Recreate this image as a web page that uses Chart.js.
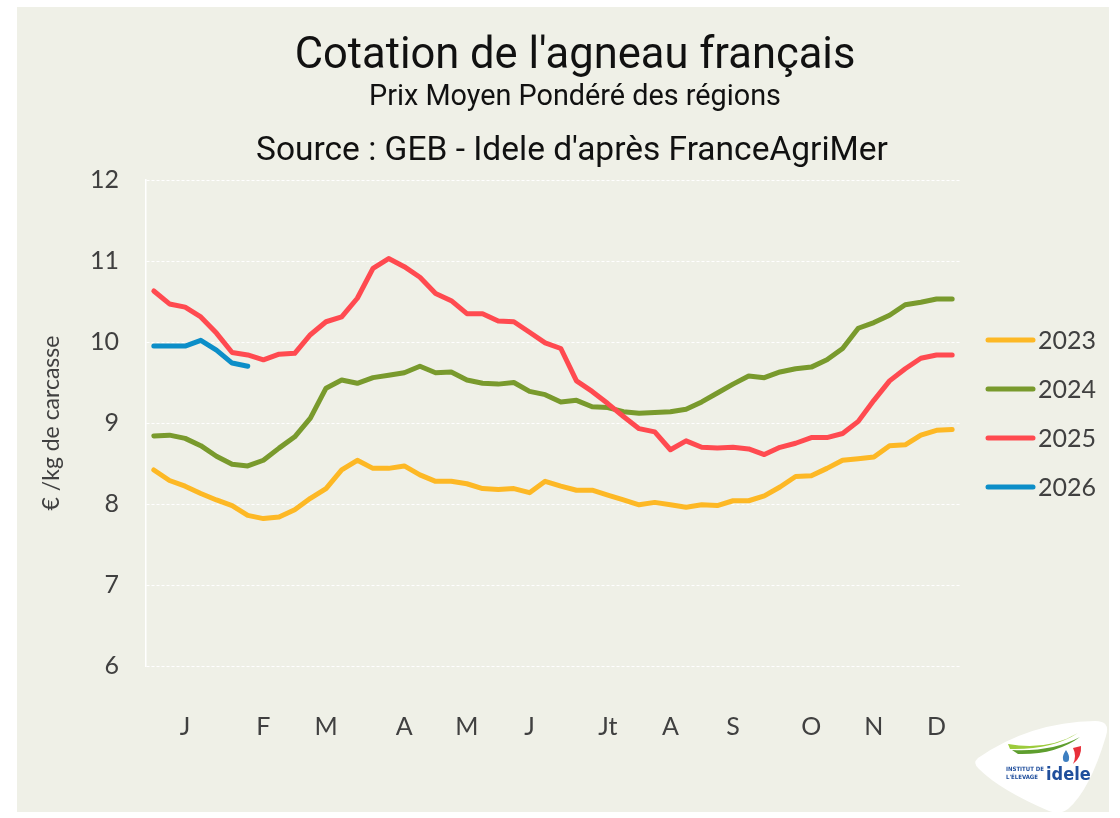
<!DOCTYPE html>
<html>
<head>
<meta charset="utf-8">
<script src="https://cdn.jsdelivr.net/npm/chart.js@4.4.1/dist/chart.umd.min.js"></script>
<style>
  html, body { margin: 0; padding: 0; background: #ffffff; }
  #wrap { width: 1120px; height: 818px; position: relative; }
</style>
</head>
<body>
<div id="wrap"><canvas id="c" width="1120" height="818"></canvas></div>
<script>
// ---- Data ----
const weeks = Array.from({ length: 52 }, (_, i) => i + 1);
const monthLabels = ['J', 'F', 'M', 'A', 'M', 'J', 'Jt', 'A', 'S', 'O', 'N', 'D'];
const monthWeekIndex = [2, 7, 11, 16, 20, 24, 29, 33, 37, 42, 46, 50];
const yTicks = [6, 7, 8, 9, 10, 11, 12];
const seriesNames = ['2023', '2024', '2025', '2026'];

const y2023 = [8.42, 8.29, 8.22, 8.13, 8.05, 7.98, 7.86, 7.82, 7.84, 7.93,
  8.07, 8.19, 8.42, 8.54, 8.44, 8.44, 8.47, 8.36, 8.28, 8.28,
  8.25, 8.19, 8.18, 8.19, 8.14, 8.28, 8.22, 8.17, 8.17, 8.11,
  8.05, 7.99, 8.02, 7.99, 7.96, 7.99, 7.98, 8.04, 8.04, 8.10,
  8.21, 8.34, 8.35, 8.44, 8.54, 8.56, 8.58, 8.72, 8.73, 8.85,
  8.91, 8.92];
const y2024 = [8.84, 8.85, 8.81, 8.72, 8.59, 8.49, 8.47, 8.54, 8.69, 8.83,
  9.06, 9.43, 9.53, 9.49, 9.56, 9.59, 9.62, 9.70, 9.62, 9.63,
  9.53, 9.49, 9.48, 9.50, 9.39, 9.35, 9.26, 9.28, 9.20, 9.19,
  9.14, 9.12, 9.13, 9.14, 9.17, 9.26, 9.37, 9.48, 9.58, 9.56,
  9.63, 9.67, 9.69, 9.78, 9.92, 10.17, 10.24, 10.33, 10.46, 10.49,
  10.53, 10.53];
const y2025 = [10.63, 10.47, 10.43, 10.31, 10.11, 9.87, 9.84, 9.78, 9.85, 9.86,
  10.09, 10.25, 10.31, 10.54, 10.91, 11.03, 10.93, 10.80, 10.60, 10.51,
  10.35, 10.35, 10.26, 10.25, 10.12, 9.99, 9.92, 9.52, 9.39, 9.24,
  9.08, 8.93, 8.89, 8.67, 8.78, 8.70, 8.69, 8.70, 8.68, 8.61,
  8.70, 8.75, 8.82, 8.82, 8.87, 9.02, 9.28, 9.52, 9.67, 9.80,
  9.84, 9.84];
const y2026 = [9.95, 9.95, 9.95, 10.02, 9.90, 9.74, 9.70];

const colors = ['#FDB825', '#799A2D', '#FF4A50', '#0C8EC8'];

// ---- Styling ----
const PANEL = '#EFF0E7';
const TEXT = '#404040';
const TICK_FONT = { family: 'Lato', size: 25 };

const decor = {
  id: 'decor',
  beforeDraw(chart) {
    const ctx = chart.ctx;
    ctx.save();
    ctx.fillStyle = '#ffffff';
    ctx.fillRect(0, 0, chart.width, chart.height);
    ctx.fillStyle = PANEL;
    ctx.fillRect(17, 7, 1092, 805);
    ctx.fillStyle = '#111111';
    ctx.textAlign = 'center';
    ctx.textBaseline = 'alphabetic';
    ctx.font = '43.5px Roboto';
    ctx.fillText("Cotation de l'agneau français", 575, 68);
    ctx.font = '28.8px Roboto';
    ctx.fillText('Prix Moyen Pondéré des régions', 575, 105);
    ctx.font = '33.5px Roboto';
    ctx.fillText("Source : GEB - Idele d'après FranceAgriMer", 572, 160);
    ctx.restore();
  },
  afterDraw(chart) {
    const ctx = chart.ctx;
    ctx.save();
    // Legend
    const legendY = [340, 389, 438, 487];
    chart.data.datasets.forEach((ds, i) => {
      const y = legendY[i];
      ctx.strokeStyle = ds.borderColor;
      ctx.lineWidth = 5;
      ctx.lineCap = 'round';
      ctx.beginPath();
      ctx.moveTo(988, y);
      ctx.lineTo(1033, y);
      ctx.stroke();
      ctx.fillStyle = TEXT;
      ctx.font = '25px Lato';
      ctx.textAlign = 'left';
      ctx.textBaseline = 'middle';
      ctx.fillText(ds.label, 1038, y + 1);
    });
    // Logo
    ctx.fillStyle = '#ffffff';
    ctx.beginPath();
    ctx.moveTo(978, 758);
    ctx.quadraticCurveTo(1030, 722, 1095, 721);
    ctx.quadraticCurveTo(1111, 721, 1106, 736);
    ctx.quadraticCurveTo(1090, 790, 1068, 809);
    ctx.quadraticCurveTo(1060, 815, 1049, 811);
    ctx.quadraticCurveTo(1000, 790, 979, 769);
    ctx.quadraticCurveTo(972, 763, 978, 758);
    ctx.closePath();
    ctx.fill();
    // swoosh
    ctx.fillStyle = '#9CCB3B';
    ctx.beginPath();
    ctx.moveTo(1008, 744);
    ctx.quadraticCurveTo(1048, 751, 1078, 733);
    ctx.quadraticCurveTo(1052, 750, 1010, 749);
    ctx.closePath();
    ctx.fill();
    ctx.fillStyle = '#5E9E2E';
    ctx.beginPath();
    ctx.moveTo(1012, 750);
    ctx.quadraticCurveTo(1052, 752, 1080, 737);
    ctx.quadraticCurveTo(1056, 755, 1018, 754);
    ctx.closePath();
    ctx.fill();
    // drop
    ctx.fillStyle = '#3D7FC1';
    ctx.beginPath();
    ctx.moveTo(1066, 750);
    ctx.quadraticCurveTo(1070, 756, 1069, 759);
    ctx.arc(1066, 759, 3, 0, Math.PI);
    ctx.quadraticCurveTo(1062, 756, 1066, 750);
    ctx.fill();
    // red mark
    ctx.fillStyle = '#E8303A';
    ctx.beginPath();
    ctx.moveTo(1073, 748);
    ctx.lineTo(1081, 746);
    ctx.quadraticCurveTo(1082, 757, 1073, 764);
    ctx.quadraticCurveTo(1077, 756, 1073, 748);
    ctx.fill();
    // texts
    ctx.fillStyle = '#1F4E9C';
    ctx.textAlign = 'left';
    ctx.textBaseline = 'alphabetic';
    ctx.font = 'bold 6px "DejaVu Sans Condensed", sans-serif';
    ctx.fillText('INSTITUT DE', 1006, 771);
    ctx.fillText("L'ÉLEVAGE", 1006, 779);
    ctx.font = 'bold 18px "DejaVu Sans Condensed", sans-serif';
    ctx.fillText('idele', 1046, 780);
    ctx.restore();
  }
};

const datasets = [y2023, y2024, y2025, y2026].map((d, i) => ({
  label: seriesNames[i],
  data: d,
  borderColor: colors[i],
  backgroundColor: colors[i],
  borderWidth: 5,
  borderCapStyle: 'round',
  borderJoinStyle: 'round',
  pointRadius: 0,
  pointHoverRadius: 0,
  tension: 0,
  fill: false,
  order: 4 - i
}));

new Chart(document.getElementById('c'), {
  type: 'line',
  data: { labels: weeks, datasets },
  options: {
    responsive: false,
    animation: false,
    events: [],
    layout: { padding: { left: 38, top: 180, right: 160, bottom: 52 } },
    plugins: {
      legend: { display: false },
      title: { display: false },
      tooltip: { enabled: false }
    },
    scales: {
      x: {
        type: 'category',
        offset: true,
        grid: { display: false, drawTicks: false },
        border: { display: false },
        ticks: {
          autoSkip: false,
          maxRotation: 0,
          minRotation: 0,
          padding: 46,
          color: TEXT,
          font: TICK_FONT,
          callback: (v, i) => {
            const k = monthWeekIndex.indexOf(i);
            return k >= 0 ? monthLabels[k] : '';
          }
        },
        afterFit: (s) => { s.height = 100; }
      },
      y: {
        min: 6,
        max: 12,
        afterBuildTicks: (s) => { s.ticks = yTicks.map(v => ({ value: v })); },
        grid: { color: '#ffffff', lineWidth: 1, drawTicks: false },
        border: { display: true, color: '#ffffff', width: 1.5, dash: [3, 2] },
        ticks: { padding: 27, color: TEXT, font: TICK_FONT },
        title: {
          display: true,
          text: '€ /kg de carcasse',
          color: TEXT,
          font: { family: 'Lato', size: 23 },
          padding: { top: 0, bottom: 0 }
        },
        afterFit: (s) => { s.width = 108; }
      }
    }
  },
  plugins: [decor]
});
</script>
</body>
</html>
